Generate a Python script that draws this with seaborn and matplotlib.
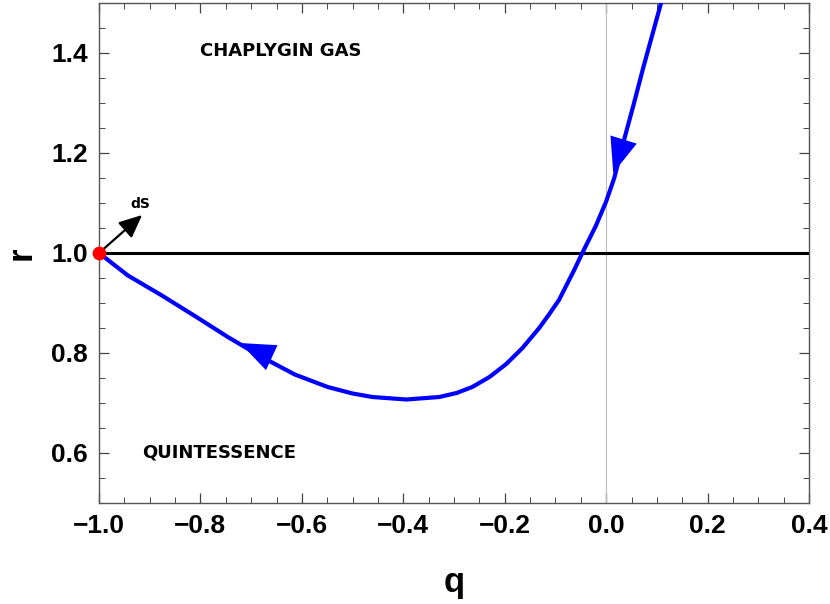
import matplotlib
matplotlib.use("Agg")
import matplotlib.pyplot as plt
from matplotlib.ticker import MultipleLocator
import seaborn as sns

# trajectory in the q-r plane
q_path = [0.111, 0.092, 0.073, 0.055, 0.035, 0.016, 0.0, -0.020, -0.047, -0.063,
          -0.093, -0.112, -0.132, -0.165, -0.197, -0.230, -0.264, -0.295, -0.329,
          -0.394, -0.461, -0.500, -0.549, -0.614, -0.679, -0.746, -0.811, -0.876,
          -0.943, -1.0]
r_path = [1.510, 1.440, 1.370, 1.300, 1.225, 1.150, 1.103, 1.055, 1.000, 0.966,
          0.906, 0.878, 0.850, 0.810, 0.778, 0.752, 0.732, 0.720, 0.712,
          0.707, 0.712, 0.719, 0.732, 0.757, 0.792, 0.832, 0.874, 0.915,
          0.955, 1.0]

# LCDM line
q_lcdm = [-1.0, 0.4]
r_lcdm = [1.0, 1.0]

# de Sitter point and its direction arrow
q_ds, r_ds = -1.0, 1.0
ds_tip = (-0.915, 1.076)

# arrow heads on the trajectory: (tail, tip)
arrows = [((0.040, 1.245), (0.014, 1.160)),
          ((-0.690, 0.805), (-0.722, 0.820))]

sns.set_style("ticks")
plt.rcParams["font.family"] = ["Liberation Sans", "DejaVu Sans"]
plt.rcParams["text.color"] = "black"
plt.rcParams["axes.labelcolor"] = "black"
plt.rcParams["xtick.color"] = "black"
plt.rcParams["ytick.color"] = "black"

fig = plt.figure(figsize=(8.3, 6.04), dpi=100)
ax = fig.add_axes([99 / 830, 101 / 604, 710 / 830, 500 / 604])

ax.axvline(0, color="#bbbbbb", lw=0.8, zorder=1)
sns.lineplot(x=q_lcdm, y=r_lcdm, color="black", lw=2.2, ax=ax, zorder=2)
sns.lineplot(x=q_path, y=r_path, sort=False, estimator=None, color="blue",
             lw=3.0, ax=ax, zorder=3, solid_joinstyle="round")

for tail, tip in arrows:
    ax.annotate("", xy=tip, xytext=tail,
                arrowprops=dict(arrowstyle="-|>,head_length=1.4,head_width=0.55",
                                color="blue", lw=0, shrinkA=0, shrinkB=0,
                                mutation_scale=18), zorder=4)

ax.annotate("", xy=ds_tip, xytext=(q_ds, r_ds),
            arrowprops=dict(arrowstyle="-|>,head_length=1.0,head_width=0.45",
                            color="black", lw=1.6, shrinkA=0, shrinkB=0,
                            mutation_scale=14), zorder=5)
ax.scatter([q_ds], [r_ds], s=80, color="red", zorder=6, clip_on=False)
ax.text(-0.919, 1.097, "dS", fontsize=10, fontweight="bold", family="DejaVu Sans",
        ha="center", va="center")

ax.text(-0.642, 1.404, "CHAPLYGIN GAS", fontsize=13, fontweight="bold",
        family="DejaVu Sans", ha="center", va="center")
ax.text(-0.764, 0.602, "QUINTESSENCE", fontsize=13, fontweight="bold",
        family="DejaVu Sans", ha="center", va="center")

ax.set_xlim(-1.0, 0.4)
ax.set_ylim(0.5, 1.5)
ax.xaxis.set_minor_locator(MultipleLocator(0.05))
ax.yaxis.set_minor_locator(MultipleLocator(0.05))
ax.set_xticks([-1.0, -0.8, -0.6, -0.4, -0.2, 0.0, 0.2, 0.4])
ax.set_xticklabels(["\u22121.0", "\u22120.8", "\u22120.6", "\u22120.4", "\u22120.2",
                    "0.0", "0.2", "0.4"])
ax.set_yticks([0.6, 0.8, 1.0, 1.2, 1.4])
ax.set_yticklabels(["0.6", "0.8", "1.0", "1.2", "1.4"])
ax.tick_params(which="both", direction="in", top=True, right=True, color="#444444")
ax.tick_params(which="major", length=7, width=0.9, labelsize=19, pad=8)
ax.tick_params(which="minor", length=4, width=0.7)
for lab in ax.get_xticklabels() + ax.get_yticklabels():
    lab.set_fontweight("bold")
for s in ax.spines.values():
    s.set_color("#555555")
    s.set_linewidth(1.0)

ax.set_xlabel("q", fontsize=25, fontweight="bold", labelpad=20)
ax.set_ylabel("r", fontsize=25, fontweight="bold", labelpad=10)

fig.savefig("out.png", dpi=100)
